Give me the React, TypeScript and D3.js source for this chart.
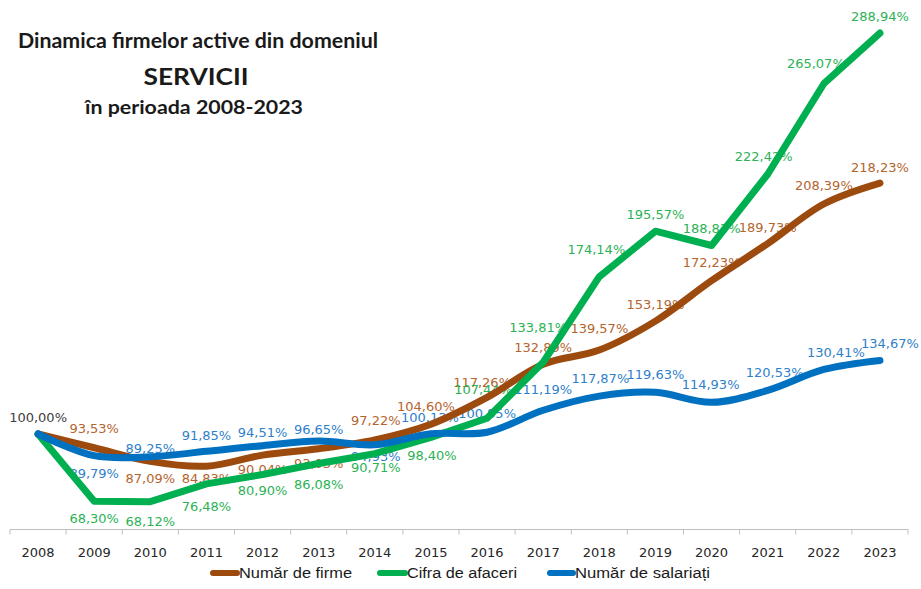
import React from 'react';
import * as d3 from 'd3';

const years = ['2008','2009','2010','2011','2012','2013','2014','2015','2016','2017','2018','2019','2020','2021','2022','2023'];
const firme = [100, 93.53, 87.09, 84.83, 90.04, 93.03, 97.22, 104.60, 117.26, 132.89, 139.57, 153.19, 172.23, 189.73, 208.39, 218.23];
const cifra = [100, 68.30, 68.12, 76.48, 80.90, 86.08, 90.71, 98.40, 107.44, 133.81, 174.14, 195.57, 188.83, 222.42, 265.07, 288.94];
const salariati = [100, 89.79, 89.25, 91.85, 94.51, 96.65, 94.93, 100.13, 100.85, 111.19, 117.87, 119.63, 114.93, 120.53, 130.41, 134.67];

const seriesNames = ['Număr de firme', 'Cifra de afaceri', 'Număr de salariați'];
const titleLines = ['Dinamica firmelor active din domeniul', 'SERVICII', 'în perioada 2008-2023'];

// label placement (styling, offsets of label centre from point)
const firmeDx = [0, 0, 0, 0, 0, 0, 1, -5, -5, 0, 0, 0, 0, 0, 0, 0];
const firmeDy = [-17, -19, 17, 12, 14, 15, -19, -18, -15, -17, -22, -17, -18, -16, -19, -16];
const cifraDx = [0, 0, 0, 0, 0, 0, 1, 1, -4, -5, -3, 0, 0, -4, -8, 0];
const cifraDy = [null, 17, 20, 23, 16, 21, 14, 18, -29, -35, -27, -17, -17, -18, -20, -17];
const salDx = [0, 0, 0, 0, 0, 0, 1, -1, 0, 0, 1, 0, -1, 7, 12, 10];
const salDy = [null, 18, -8, -16, -13, -12, 12, -16, -19, -21, -18, -18, -18, -18, -17, -17];

const fmt = (v: number) => v.toFixed(2).replace('.', ',') + '%';

export default function App() {
  const W = 921, H = 589;
  const x = d3.scaleBand<string>().domain(years).range([10, 908]).padding(0);
  const cx = (i: number) => (x(years[i]) as number) + x.bandwidth() / 2;
  const y = d3.scaleLinear().domain([55, 300]).range([529.5, 9.6]);
  const axisY = y(55);

  const smooth = d3.line<number>().x((_, i) => cx(i)).y(d => y(d)).curve(d3.curveCatmullRom.alpha(0.5));
  const straight = d3.line<number>().x((_, i) => cx(i)).y(d => y(d)).curve(d3.curveLinear);

  const series = [
    { data: firme, line: '#9C4A0E', label: '#B4652E', dx: firmeDx, dy: firmeDy, gen: smooth },
    { data: cifra, line: '#00B050', label: '#2BB255', dx: cifraDx, dy: cifraDy, gen: straight },
    { data: salariati, line: '#0070C0', label: '#2F7FCB', dx: salDx, dy: salDy, gen: smooth },
  ];

  const labelFont = { fontFamily: '"DejaVu Sans", sans-serif', fontSize: 13 };

  const legendItems = [
    { sx: 210, sw: 29, tx: 239, tw: 113, color: '#9C4A0E' },
    { sx: 377, sw: 30, tx: 407, tw: 110, color: '#00B050' },
    { sx: 547, sw: 28, tx: 575, tw: 135, color: '#0070C0' },
  ];

  return (
    <svg width={W} height={H} style={{ position: 'absolute', left: 0, top: 0, background: '#fff' }}>
      <rect x={0} y={0} width={W} height={H} fill="#fff" />
      {/* title */}
      <g fontFamily="Lato, 'Open Sans', sans-serif" fontWeight="bold" fill="#1a1a1a" textAnchor="middle">
        <text x={198} y={48} fontSize={20} textLength={360} lengthAdjust="spacingAndGlyphs">{titleLines[0]}</text>
        <text x={196} y={85} fontSize={22} textLength={105} lengthAdjust="spacingAndGlyphs">{titleLines[1]}</text>
        <text x={194} y={114} fontSize={19} textLength={218} lengthAdjust="spacingAndGlyphs">{titleLines[2]}</text>
      </g>

      {/* x axis */}
      <line x1={10} x2={908} y1={axisY} y2={axisY} stroke="#BFBFBF" strokeWidth={1} />
      {d3.range(years.length + 1).map(i => {
        const tx = 10 + i * x.step();
        return <line key={'t' + i} x1={tx} x2={tx} y1={axisY} y2={axisY + 5} stroke="#BFBFBF" strokeWidth={1} />;
      })}
      {years.map((yr, i) => (
        <text key={yr} x={cx(i)} y={557} textAnchor="middle" fill="#262626" {...labelFont}>{yr}</text>
      ))}

      {/* data labels (drawn under the lines) */}
      {series.map((s, si) => (
        <g key={'lab' + si} {...labelFont} textAnchor="middle">
          {s.data.map((v, i) => {
            const dy = s.dy[i];
            if (dy === null || dy === undefined) return null;
            const isFirst = i === 0;
            return (
              <text key={i} x={cx(i) + (s.dx[i] || 0)} y={y(v) + dy} dominantBaseline="central"
                fill={isFirst ? '#404040' : s.label}>{fmt(v)}</text>
            );
          })}
        </g>
      ))}

      {/* lines */}
      {series.map((s, si) => (
        <path key={'ln' + si} d={s.gen(s.data) || ''} fill="none" stroke={s.line} strokeWidth={7}
          strokeLinecap="round" strokeLinejoin="round" />
      ))}

      {/* legend */}
      {legendItems.map((l, i) => (
        <g key={'lg' + i}>
          <line x1={l.sx + 3} x2={l.sx + l.sw - 2} y1={573} y2={573} stroke={l.color} strokeWidth={6} strokeLinecap="round" />
          <text x={l.tx} y={578} fontFamily="'Liberation Sans', Arial, sans-serif" fontSize={14} fill="#1a1a1a"
            textLength={l.tw} lengthAdjust="spacingAndGlyphs">{seriesNames[i]}</text>
        </g>
      ))}
    </svg>
  );
}
